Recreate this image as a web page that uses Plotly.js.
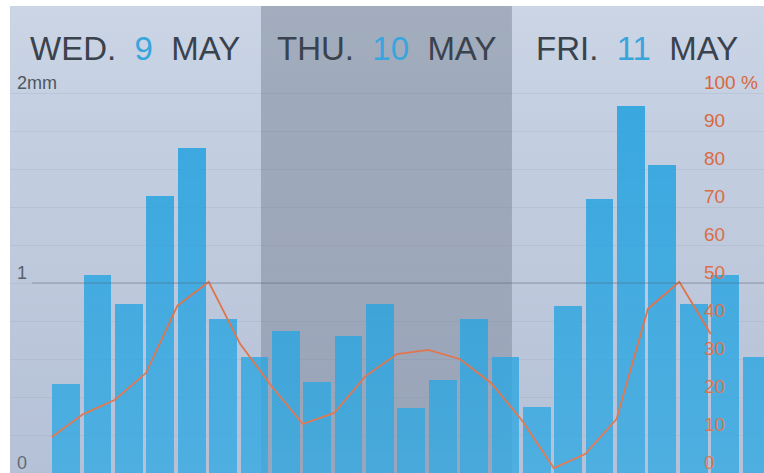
<!DOCTYPE html>
<html>
<head>
<meta charset="utf-8">
<script src="https://cdn.plot.ly/plotly-3.0.1.min.js"></script>
<style>
  html, body { margin: 0; padding: 0; background: #ffffff; }
  #wrap { position: relative; width: 764px; height: 473px; overflow: hidden; }
  #bg { position: absolute; left: 10px; top: 6px; width: 754px; height: 467px;
        background: linear-gradient(to bottom, #cbd5e5 0%, #c5d0e2 20%, #bac5da 59%, #aab8d1 100%); }
  #chart { position: absolute; left: 0; top: 0; width: 764px; height: 473px; }
  #sheen { position: absolute; left: 10px; top: 6px; width: 754px; height: 467px; pointer-events: none;
        background: linear-gradient(to bottom, rgba(255,255,255,0) 0%, rgba(255,255,255,0) 20%, rgba(255,255,255,0.13) 100%); }
</style>
</head>
<body>
<div id="wrap"><div id="bg"></div><div id="chart"></div><div id="sheen"></div></div>
<script>
// ---- data ----
// hours since Wednesday 00:00 (start of each 3-hour period)
const periodStart = [4, 7, 10, 13, 16, 19, 22, 25, 28, 31, 34, 37, 40, 43, 46, 49, 52, 55, 58, 61, 64, 67, 70];
// precipitation per period, mm
const rainMM = [0.47, 1.04, 0.89, 1.46, 1.71, 0.81, 0.61, 0.75, 0.48, 0.72, 0.89, 0.34, 0.49, 0.81, 0.61, 0.35, 0.88, 1.44, 1.93, 1.62, 0.89, 1.04, 0.61];
// probability of precipitation, %
const probTimes = [4, 7, 10, 13, 16, 19, 22, 25, 28, 31, 34, 37, 40, 43, 46, 49, 52, 55, 58, 61, 64, 67];
const probPct = [9.5, 15.5, 19.2, 26.3, 44, 50.3, 34, 22.9, 12.9, 15.8, 25.5, 31.3, 32.4, 30, 23.7, 13.7, 1.3, 5, 14.2, 43.2, 50.3, 36.6];
// days
const dayStart = [0, 24, 48];
const dayName = ['WED.', 'THU.', 'FRI.'];
const dayNum = ['9', '10', '11'];
const dayMonth = ['MAY', 'MAY', 'MAY'];
const dayShaded = [false, true, false];
// axis ticks
const mmTickVals = [0, 1, 2];
const mmTickText = ['0', '1', '2mm'];
const pctTickVals = [0, 10, 20, 30, 40, 50, 60, 70, 80, 90, 100];
const pctTickText = ['0', '10', '20', '30', '40', '50', '60', '70', '80', '90', '100 %'];

// ---- layout constants ----
const DAY_LEN = 24;
const X_MAX = 72.1;
const Y_MAX = 2.458;           // mm at top of plot area
const Y2_MAX = Y_MAX * 50;     // 1 mm == 50 %

const bandShapes = [];
dayStart.forEach((d, i) => {
  if (dayShaded[i]) {
    bandShapes.push({
      type: 'rect', xref: 'x', yref: 'paper', x0: d, x1: d + DAY_LEN, y0: 0, y1: 1,
      fillcolor: 'rgba(55,65,85,0.27)', line: { width: 0 }, layer: 'below'
    });
  }
});

const titleFont = "'Liberation Sans', Arial, Helvetica, sans-serif";
const NB = '\u00a0\u00a0';

const traces = [
  {
    type: 'bar', x: periodStart, y: rainMM, xaxis: 'x', yaxis: 'y',
    offset: 0.05, width: 2.65,
    marker: { color: 'rgba(22,158,222,0.80)', line: { width: 0 } },
    hoverinfo: 'skip', showlegend: false
  },
  {
    type: 'scatter', mode: 'lines', x: probTimes, y: probPct, xaxis: 'x', yaxis: 'y2',
    line: { color: '#e0683c', width: 1.8 },
    hoverinfo: 'skip', showlegend: false
  }
];

const annotations = dayStart.map((d, i) => ({
  xref: 'x', yref: 'paper', x: d + DAY_LEN / 2, y: 0.91,
  xanchor: 'center', yanchor: 'middle', showarrow: false,
  text: dayName[i] + NB + '<span style="color:#38a6dd">' + dayNum[i] + '</span>' + NB + dayMonth[i],
  font: { family: titleFont, size: 33, color: '#3a434d' }
}));

const layout = {
  width: 764, height: 473,
  margin: { l: 10, r: 0, t: 6, b: 0, pad: 0 },
  paper_bgcolor: 'rgba(0,0,0,0)', plot_bgcolor: 'rgba(0,0,0,0)',
  barmode: 'overlay', bargap: 0,
  showlegend: false,
  xaxis: { range: [0, X_MAX], showgrid: false, zeroline: false, showticklabels: false, ticks: '', showline: false, fixedrange: true },
  yaxis: {
    range: [0, Y_MAX], side: 'right', anchor: 'free', position: 0.008,
    tickvals: mmTickVals, ticktext: mmTickText, ticks: '', showgrid: false, zeroline: false, showline: false,
    ticklabelshift: -10, ticklabeloverflow: 'allow',
    tickfont: { family: "'Liberation Sans', Arial, sans-serif", size: 18, color: '#4e5660' }
  },
  yaxis2: {
    range: [0, Y2_MAX], overlaying: 'y', side: 'right', anchor: 'free', position: 0.919,
    tickvals: pctTickVals, ticktext: pctTickText, ticks: '', zeroline: false, showline: false,
    showgrid: true, gridcolor: 'rgba(90,105,130,0.10)', gridwidth: 1,
    ticklabelshift: -11, ticklabeloverflow: 'allow',
    tickfont: { family: "'Liberation Sans', Arial, sans-serif", size: 19, color: '#d8673d' }
  },
  shapes: bandShapes.concat([{
    type: 'line', xref: 'paper', yref: 'y', x0: 0.029, x1: 1, y0: 1, y1: 1,
    line: { color: 'rgba(70,80,95,0.45)', width: 1 }, layer: 'above'
  }]),
  annotations: annotations
};

Plotly.newPlot('chart', traces, layout, { displayModeBar: false, staticPlot: true });
</script>
</body>
</html>
